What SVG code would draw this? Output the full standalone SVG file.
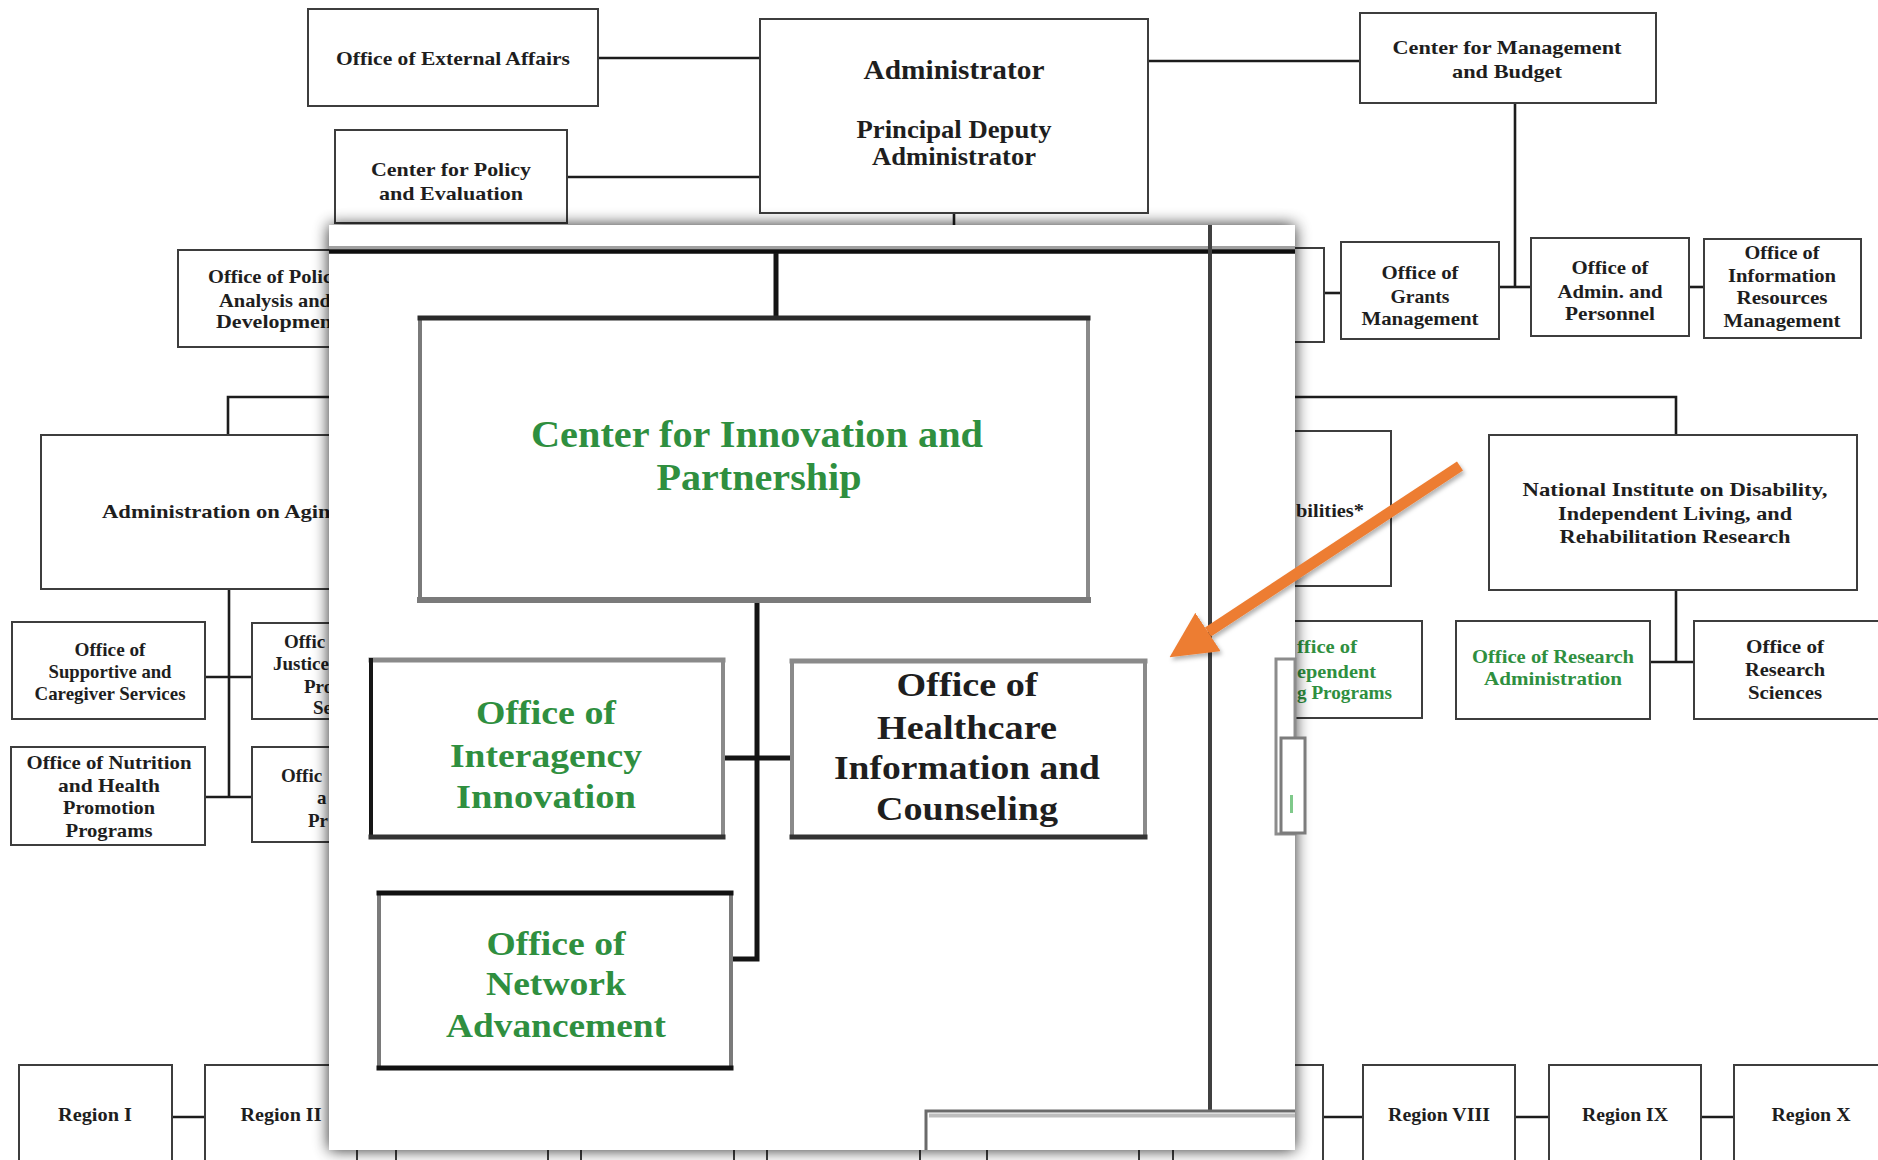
<svg xmlns="http://www.w3.org/2000/svg" width="1878" height="1160" viewBox="0 0 1878 1160">
<style>
.bx{fill:#fff;stroke:#3d3d3d;stroke-width:2}
.cn{fill:none;stroke:#1c1c1c;stroke-width:2.6}
.t{font-family:"Liberation Serif","DejaVu Serif",serif;font-weight:bold;font-size:19px;fill:#1e1e1e;text-anchor:middle}
.st{text-anchor:start}
.en{text-anchor:end}
.gr{fill:#2f8f3f}
.big{font-size:34px}
.adm1{font-size:27px}
.adm2{font-size:25px}
.cipt{font-size:38px}
.ocn{fill:none;stroke:#141414;stroke-width:5}
.side{fill:none;stroke-linecap:square}
</style>
<defs>
<filter id="sh" x="-5%" y="-5%" width="110%" height="110%">
<feGaussianBlur in="SourceAlpha" stdDeviation="8" result="b"/>
<feComponentTransfer in="b" result="c"><feFuncA type="linear" slope="0.85"/></feComponentTransfer>
<feMerge><feMergeNode in="c"/><feMergeNode in="SourceGraphic"/></feMerge>
</filter>
<filter id="ash" x="-20%" y="-20%" width="140%" height="140%">
<feDropShadow dx="2" dy="3" stdDeviation="2" flood-color="#000" flood-opacity="0.3"/>
</filter>
<marker id="ah" viewBox="0 0 10 10" refX="0" refY="5" markerWidth="46" markerHeight="46" markerUnits="userSpaceOnUse" orient="auto">
<path d="M0,0 L10,5 L0,10 z" fill="#ED7D31"/>
</marker>
</defs>
<rect width="1878" height="1160" fill="#fff"/>

<g id="connectors">
<path class="cn" d="M598,58 H760"/>
<path class="cn" d="M567,177 H760"/>
<path class="cn" d="M1148,61 H1360"/>
<path class="cn" d="M954,213 V226"/>
<path class="cn" d="M1515,103 V287"/>
<path class="cn" d="M1499,287 H1531"/>
<path class="cn" d="M1689,287 H1704"/>
<path class="cn" d="M1324,293 H1342"/>
<path class="cn" d="M228,435 V397 H1676 V435"/>
<path class="cn" d="M229,589 V797"/>
<path class="cn" d="M205,677 H252"/>
<path class="cn" d="M205,797 H252"/>
<path class="cn" d="M1676,590 V662"/>
<path class="cn" d="M1650,662 H1694"/>
<path class="cn" d="M172,1117 H205 M357,1117 H396 M548,1117 H581 M734,1117 H767 M920,1117 H987 M1139,1117 H1173 M1323,1117 H1363 M1515,1117 H1549 M1701,1117 H1734"/>
</g>

<g id="n-ext"><rect class="bx" x="308" y="9" width="290" height="97"/>
<text class="t" x="453" y="65" textLength="234" lengthAdjust="spacingAndGlyphs">Office of External Affairs</text></g>

<g id="n-admin"><rect class="bx" x="760" y="19" width="388" height="194"/>
<text class="t adm1" x="954" y="79" textLength="181" lengthAdjust="spacingAndGlyphs">Administrator</text>
<text class="t adm2" x="954" y="138" textLength="195" lengthAdjust="spacingAndGlyphs">Principal Deputy</text>
<text class="t adm2" x="954" y="165" textLength="164" lengthAdjust="spacingAndGlyphs">Administrator</text></g>

<g id="n-cpe"><rect class="bx" x="335" y="130" width="232" height="93"/>
<text class="t" x="451" y="176" textLength="160" lengthAdjust="spacingAndGlyphs">Center for Policy</text>
<text class="t" x="451" y="200" textLength="144" lengthAdjust="spacingAndGlyphs">and Evaluation</text></g>

<g id="n-cmb"><rect class="bx" x="1360" y="13" width="296" height="90"/>
<text class="t" x="1507" y="54" textLength="229" lengthAdjust="spacingAndGlyphs">Center for Management</text>
<text class="t" x="1507" y="78" textLength="110" lengthAdjust="spacingAndGlyphs">and Budget</text></g>

<g id="n-grants"><rect class="bx" x="1341" y="242" width="158" height="97"/>
<text class="t" x="1420" y="279" textLength="77" lengthAdjust="spacingAndGlyphs">Office of</text>
<text class="t" x="1420" y="303" textLength="59" lengthAdjust="spacingAndGlyphs">Grants</text>
<text class="t" x="1420" y="325" textLength="117" lengthAdjust="spacingAndGlyphs">Management</text></g>

<g id="n-adminpers"><rect class="bx" x="1531" y="238" width="158" height="98"/>
<text class="t" x="1610" y="274" textLength="77" lengthAdjust="spacingAndGlyphs">Office of</text>
<text class="t" x="1610" y="298" textLength="105" lengthAdjust="spacingAndGlyphs">Admin. and</text>
<text class="t" x="1610" y="320" textLength="90" lengthAdjust="spacingAndGlyphs">Personnel</text></g>

<g id="n-irm"><rect class="bx" x="1704" y="239" width="157" height="99"/>
<text class="t" x="1782" y="259" textLength="75" lengthAdjust="spacingAndGlyphs">Office of</text>
<text class="t" x="1782" y="282" textLength="108" lengthAdjust="spacingAndGlyphs">Information</text>
<text class="t" x="1782" y="304" textLength="91" lengthAdjust="spacingAndGlyphs">Resources</text>
<text class="t" x="1782" y="327" textLength="117" lengthAdjust="spacingAndGlyphs">Management</text></g>

<g id="n-hidden-right"><rect class="bx" x="1150" y="248" width="174" height="94"/></g>

<g id="n-opad"><rect class="bx" x="178" y="250" width="250" height="97"/>
<text class="t st" x="208" y="283" textLength="124" lengthAdjust="spacingAndGlyphs">Office of Polic</text>
<text class="t st" x="219" y="307" textLength="112" lengthAdjust="spacingAndGlyphs">Analysis and</text>
<text class="t st" x="216" y="328" textLength="116" lengthAdjust="spacingAndGlyphs">Developmen</text></g>

<g id="n-aoa"><rect class="bx" x="41" y="435" width="362" height="154"/>
<text class="t st" x="102" y="518" textLength="240" lengthAdjust="spacingAndGlyphs">Administration on Aging</text></g>

<g id="n-supportive"><rect class="bx" x="12" y="622" width="193" height="97"/>
<text class="t" x="110" y="656" textLength="71" lengthAdjust="spacingAndGlyphs">Office of</text>
<text class="t" x="110" y="678" textLength="123" lengthAdjust="spacingAndGlyphs">Supportive and</text>
<text class="t" x="110" y="700" textLength="151" lengthAdjust="spacingAndGlyphs">Caregiver Services</text></g>

<g id="n-nutrition"><rect class="bx" x="11" y="747" width="194" height="98"/>
<text class="t" x="109" y="769" textLength="165" lengthAdjust="spacingAndGlyphs">Office of Nutrition</text>
<text class="t" x="109" y="792" textLength="102" lengthAdjust="spacingAndGlyphs">and Health</text>
<text class="t" x="109" y="814" textLength="92" lengthAdjust="spacingAndGlyphs">Promotion</text>
<text class="t" x="109" y="837" textLength="87" lengthAdjust="spacingAndGlyphs">Programs</text></g>

<g id="n-elder"><rect class="bx" x="252" y="623" width="150" height="96"/>
<text class="t st" x="284" y="648">Offic</text>
<text class="t st" x="273" y="670">Justice</text>
<text class="t st" x="304" y="693">Pro</text>
<text class="t st" x="313" y="714">Se</text></g>

<g id="n-lower"><rect class="bx" x="252" y="747" width="150" height="95"/>
<text class="t st" x="281" y="782">Offic</text>
<text class="t st" x="317" y="804">a</text>
<text class="t st" x="308" y="827">Pr</text></g>

<g id="n-aidd"><rect class="bx" x="1200" y="431" width="191" height="155"/>
<text class="t en" x="1364" y="517" textLength="68" lengthAdjust="spacingAndGlyphs">bilities*</text></g>

<g id="n-oilp"><rect class="bx" x="1230" y="621" width="192" height="97"/>
<text class="t en gr" x="1357" y="653" textLength="60" lengthAdjust="spacingAndGlyphs">ffice of</text>
<text class="t en gr" x="1376" y="678" textLength="79" lengthAdjust="spacingAndGlyphs">ependent</text>
<text class="t en gr" x="1392" y="699" textLength="95" lengthAdjust="spacingAndGlyphs">g Programs</text></g>

<g id="n-nidilrr"><rect class="bx" x="1489" y="435" width="368" height="155"/>
<text class="t" x="1675" y="496" textLength="305" lengthAdjust="spacingAndGlyphs">National Institute on Disability,</text>
<text class="t" x="1675" y="520" textLength="234" lengthAdjust="spacingAndGlyphs">Independent Living, and</text>
<text class="t" x="1675" y="543" textLength="231" lengthAdjust="spacingAndGlyphs">Rehabilitation Research</text></g>

<g id="n-ora"><rect class="bx" x="1456" y="621" width="194" height="98"/>
<text class="t gr" x="1553" y="663" textLength="162" lengthAdjust="spacingAndGlyphs">Office of Research</text>
<text class="t gr" x="1553" y="685" textLength="138" lengthAdjust="spacingAndGlyphs">Administration</text></g>

<g id="n-ors"><rect class="bx" x="1694" y="621" width="200" height="98"/>
<text class="t" x="1785" y="653" textLength="78" lengthAdjust="spacingAndGlyphs">Office of</text>
<text class="t" x="1785" y="676" textLength="80" lengthAdjust="spacingAndGlyphs">Research</text>
<text class="t" x="1785" y="699" textLength="74" lengthAdjust="spacingAndGlyphs">Sciences</text></g>

<g id="n-regions">
<g id="n-region1"><rect class="bx" x="19" y="1065" width="153" height="110"/><text class="t" x="95" y="1121" textLength="74" lengthAdjust="spacingAndGlyphs">Region I</text></g>
<g id="n-region2"><rect class="bx" x="205" y="1065" width="152" height="110"/><text class="t" x="281" y="1121" textLength="81" lengthAdjust="spacingAndGlyphs">Region II</text></g>
<g id="n-region3"><rect class="bx" x="396" y="1065" width="152" height="110"/></g>
<g id="n-region4"><rect class="bx" x="581" y="1065" width="153" height="110"/></g>
<g id="n-region5"><rect class="bx" x="767" y="1065" width="153" height="110"/></g>
<g id="n-region6"><rect class="bx" x="987" y="1065" width="152" height="110"/></g>
<g id="n-region7"><rect class="bx" x="1173" y="1065" width="150" height="110"/></g>
<g id="n-region8"><rect class="bx" x="1363" y="1065" width="152" height="110"/><text class="t" x="1439" y="1121" textLength="102" lengthAdjust="spacingAndGlyphs">Region VIII</text></g>
<g id="n-region9"><rect class="bx" x="1549" y="1065" width="152" height="110"/><text class="t" x="1625" y="1121" textLength="86" lengthAdjust="spacingAndGlyphs">Region IX</text></g>
<g id="n-region10"><rect class="bx" x="1734" y="1065" width="152" height="110"/><text class="t" x="1811" y="1121" textLength="79" lengthAdjust="spacingAndGlyphs">Region X</text></g>
</g>

<g id="cip-panel">
<rect x="329" y="225" width="966" height="925" fill="#fff" filter="url(#sh)"/>
<rect x="329" y="246" width="966" height="3.5" fill="#a0a0a0"/>
<path d="M329,251.5 H1295" stroke="#0e0e0e" stroke-width="4.5" fill="none"/>
<path d="M1210,225 V1112" stroke="#404040" stroke-width="4" fill="none"/>
<path d="M926,1150 V1111 H1295" stroke="#6a6a6a" stroke-width="3" fill="none"/>
<path d="M929,1115.5 H1295" stroke="#bdbdbd" stroke-width="4" fill="none"/>
<g id="cip-connectors">
<path class="ocn" d="M776,253 V318"/>
<path class="ocn" d="M757,600 V959 H731"/>
<path class="ocn" d="M723,758 H792" stroke-width="6"/>
</g>
<g id="n-cip">
<rect x="420" y="318" width="668" height="282" fill="#fff"/>
<path class="side" d="M420,600 V318" stroke="#7a7a7a" stroke-width="4"/>
<path class="side" d="M1088,318 V600" stroke="#8a8a8a" stroke-width="4"/>
<path class="side" d="M420,600 H1088" stroke="#7a7a7a" stroke-width="6"/>
<path class="side" d="M420,318 H1088" stroke="#2a2a2a" stroke-width="5"/>
<text class="t gr cipt" x="757" y="447" textLength="452" lengthAdjust="spacingAndGlyphs">Center for Innovation and</text>
<text class="t gr cipt" x="759" y="490" textLength="205" lengthAdjust="spacingAndGlyphs">Partnership</text>
</g>
<g id="n-interagency">
<rect x="371" y="660" width="352" height="177" fill="#fff"/>
<path class="side" d="M723,660 V837" stroke="#8a8a8a" stroke-width="4"/>
<path class="side" d="M371,660 H723" stroke="#8a8a8a" stroke-width="5"/>
<path class="side" d="M371,660 V837" stroke="#151515" stroke-width="4"/>
<path class="side" d="M371,837 H723" stroke="#333" stroke-width="5"/>
<text class="t gr big" x="546" y="724" textLength="140" lengthAdjust="spacingAndGlyphs">Office of</text>
<text class="t gr big" x="546" y="767" textLength="192" lengthAdjust="spacingAndGlyphs">Interagency</text>
<text class="t gr big" x="546" y="808" textLength="180" lengthAdjust="spacingAndGlyphs">Innovation</text>
</g>
<g id="n-healthcare">
<rect x="792" y="661" width="353" height="176" fill="#fff"/>
<path class="side" d="M792,661 V837" stroke="#8a8a8a" stroke-width="4"/>
<path class="side" d="M1145,661 V837" stroke="#8a8a8a" stroke-width="4"/>
<path class="side" d="M792,661 H1145" stroke="#8a8a8a" stroke-width="5"/>
<path class="side" d="M792,837 H1145" stroke="#333" stroke-width="5"/>
<text class="t big" x="967" y="696" textLength="141" lengthAdjust="spacingAndGlyphs">Office of</text>
<text class="t big" x="967" y="739" textLength="180" lengthAdjust="spacingAndGlyphs">Healthcare</text>
<text class="t big" x="967" y="779" textLength="266" lengthAdjust="spacingAndGlyphs">Information and</text>
<text class="t big" x="967" y="820" textLength="182" lengthAdjust="spacingAndGlyphs">Counseling</text>
</g>
<g id="n-network">
<rect x="379" y="893" width="352" height="175" fill="#fff"/>
<path class="side" d="M379,893 V1068" stroke="#7a7a7a" stroke-width="4"/>
<path class="side" d="M731,893 V1068" stroke="#7a7a7a" stroke-width="4"/>
<path class="side" d="M379,893 H731" stroke="#111" stroke-width="5"/>
<path class="side" d="M379,1068 H731" stroke="#111" stroke-width="5"/>
<text class="t gr big" x="556" y="955" textLength="139" lengthAdjust="spacingAndGlyphs">Office of</text>
<text class="t gr big" x="556" y="995" textLength="140" lengthAdjust="spacingAndGlyphs">Network</text>
<text class="t gr big" x="556" y="1037" textLength="220" lengthAdjust="spacingAndGlyphs">Advancement</text>
</g>
<g id="edge-artifact">
<rect x="1276" y="659" width="19" height="175" fill="#fff" stroke="#8c8c8c" stroke-width="3"/>
<rect x="1281" y="738" width="24" height="95" fill="#fff" stroke="#7c7c7c" stroke-width="3"/>
<rect x="1290" y="795" width="3" height="18" fill="#7fc98a"/>
</g>
</g>

<g id="pointer-arrow" filter="url(#ash)">
<line x1="1460" y1="466" x2="1208" y2="632" stroke="#ED7D31" stroke-width="11" marker-end="url(#ah)"/>
</g>
</svg>
